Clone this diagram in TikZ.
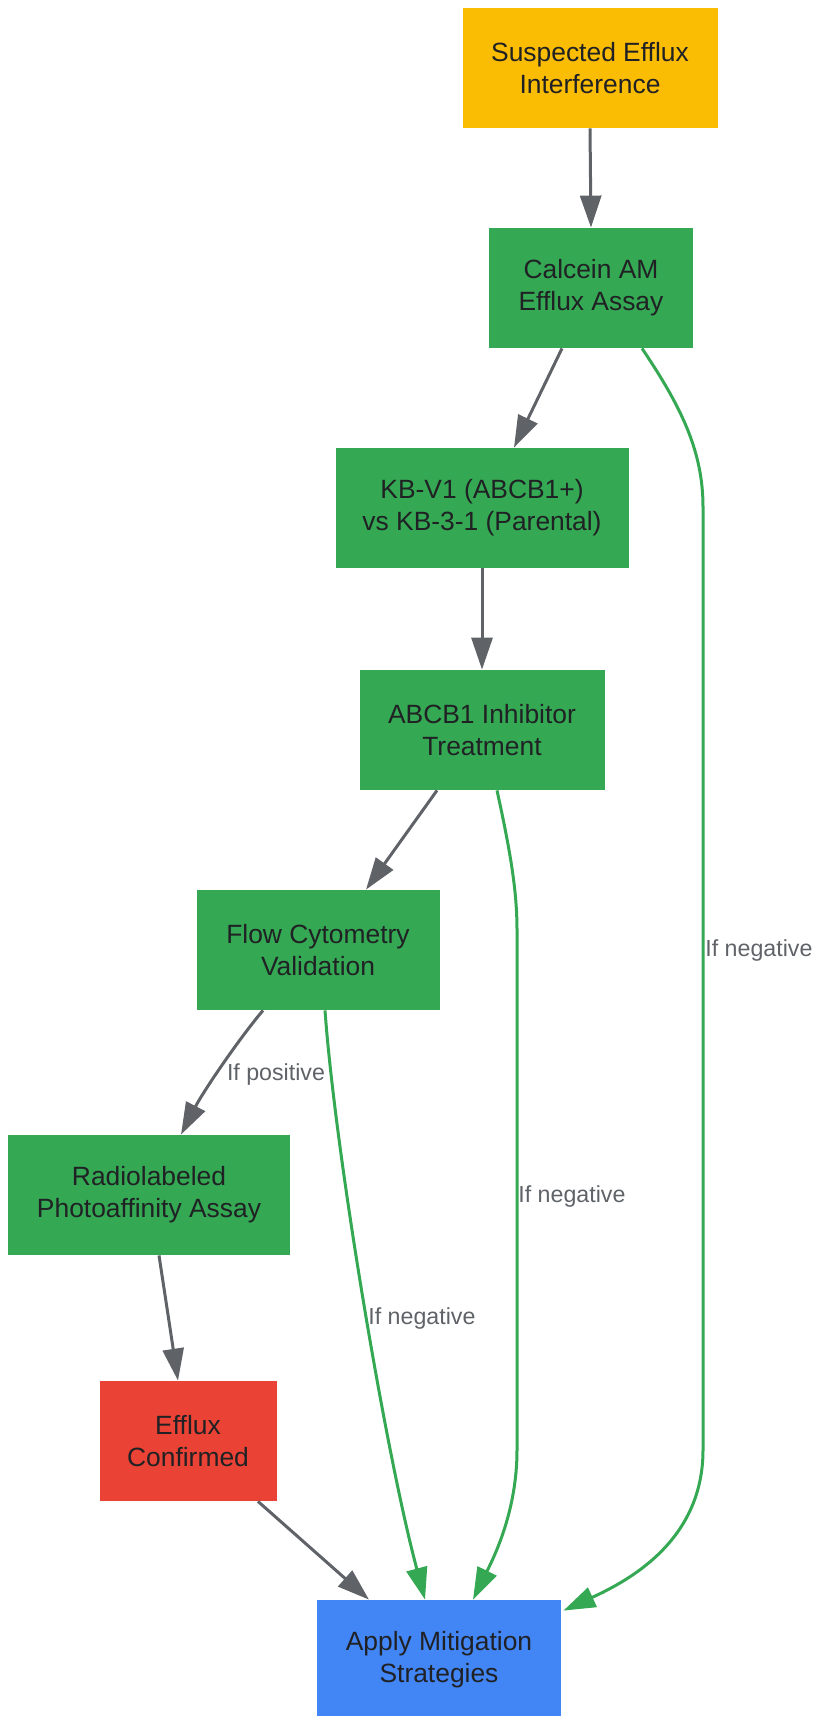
\documentclass[tikz,border=0pt]{standalone}
\usepackage{fontspec}
\setmainfont{Liberation Sans}
\usetikzlibrary{arrows.meta}

\definecolor{ambr}{HTML}{FBBC04}
\definecolor{grn}{HTML}{34A853}
\definecolor{rd}{HTML}{EA4335}
\definecolor{blu}{HTML}{4285F4}
\definecolor{edgegray}{HTML}{5F6368}
\definecolor{txt}{HTML}{202124}

\begin{document}
\begin{tikzpicture}[x=0.5pt,y=-0.5pt,
  box/.style={rectangle, minimum height=60pt, inner sep=0pt, align=center, text=txt, font=\fontsize{13.2}{16}\selectfont},
  link/.style={draw=edgegray, line width=1.5pt, -{Triangle[length=16pt,width=10.5pt]}},
  neg/.style={draw=grn, line width=1.5pt, -{Triangle[length=16pt,width=10.5pt]}},
  lbl/.style={text=edgegray, font=\fontsize{11.6}{14}\selectfont, inner sep=0pt}]

\useasboundingbox (0,0) rectangle (818,1716);

% boxes
\node[box, fill=ambr, minimum width=127.5pt] (suspect) at (590,68) {Suspected Efflux\\Interference};
\node[box, fill=grn, minimum width=102pt] (calcein) at (591,288) {Calcein AM\\Efflux Assay};
\node[box, fill=grn, minimum width=146.5pt] (kbv) at (482,508) {KB-V1 (ABCB1+)\\vs KB-3-1 (Parental)};
\node[box, fill=grn, minimum width=122.5pt] (inhib) at (482,730) {ABCB1 Inhibitor\\Treatment};
\node[box, fill=grn, minimum width=121.5pt] (flowcyt) at (318,950) {Flow Cytometry\\Validation};
\node[box, fill=grn, minimum width=141pt] (radio) at (149,1195) {Radiolabeled\\Photoaffinity Assay};
\node[box, fill=rd, minimum width=88.5pt] (confirmed) at (188,1441) {Efflux\\Confirmed};
\node[box, fill=blu, minimum width=122pt] (apply) at (439,1660) {Apply Mitigation\\Strategies};

% main chain
\draw[link] (suspect.south) -- (calcein.north);
\draw[link] ([xshift=-14.5pt]calcein.south) -- ([xshift=16pt]kbv.north);
\draw[link] (kbv.south) -- (inhib.north);
\draw[link] ([xshift=-22.5pt]inhib.south) -- ([xshift=24pt]flowcyt.north);
\draw[link] ([xshift=-27.5pt]flowcyt.south) .. controls (238,1040) and (203,1092) .. ([xshift=16pt]radio.north);
\draw[link] ([xshift=5pt]radio.south) -- ([xshift=-5pt]confirmed.north);
\draw[link] ([xshift=35pt]confirmed.south) -- ([xshift=-35pt]apply.north);

% negative branches
\draw[neg] ([xshift=25.5pt]calcein.south) .. controls (680,405) and (703,450) .. (703,507) -- (703,1450) .. controls (703,1540) and (630,1580) .. ([shift={(1pt,-5.5pt)}]apply.north east);
\draw[neg] ([xshift=7.5pt]inhib.south) .. controls (510,850) and (517,890) .. (517,930) -- (517,1450) .. controls (517,1510) and (495,1555) .. ([xshift=17pt]apply.north);
\draw[neg] ([xshift=3.5pt]flowcyt.south) .. controls (335,1150) and (385,1450) .. ([xshift=-7pt]apply.north);

% labels
\node[lbl, anchor=west] (negcal) at (705,950) {If negative};
\node[lbl, anchor=west] (neginh) at (518,1196) {If negative};
\node[lbl, anchor=west] (negflow) at (368,1318) {If negative};
\node[lbl] (pos) at (276,1074) {If positive};

\end{tikzpicture}
\end{document}
